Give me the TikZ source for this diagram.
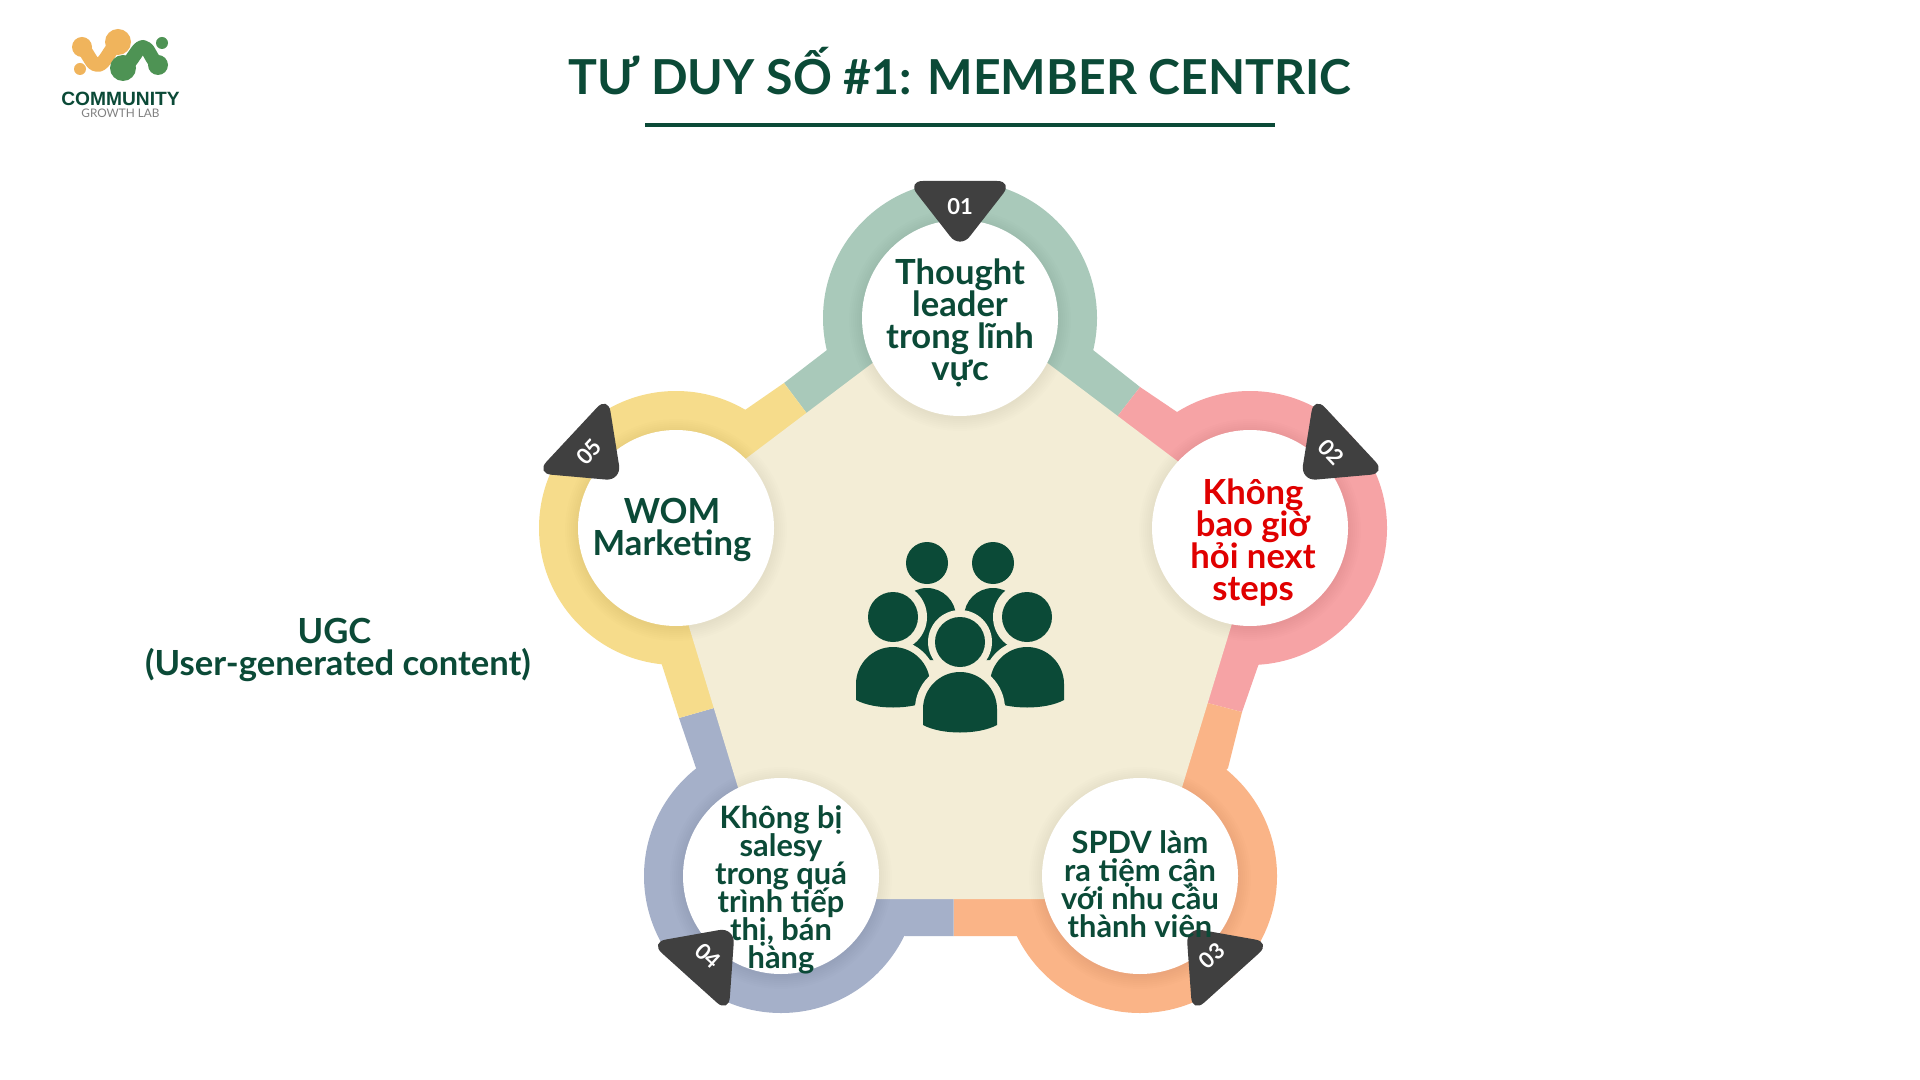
\documentclass[tikz,border=0pt]{standalone}
\usepackage{fontspec}
\setmainfont{Lato}
\definecolor{dkgreen}{HTML}{0B4A37}
\definecolor{teal}{HTML}{A9C9BA}
\definecolor{pinkb}{HTML}{F6A3A5}
\definecolor{orangeb}{HTML}{FAB487}
\definecolor{blueb}{HTML}{A5B0C9}
\definecolor{yellowb}{HTML}{F6DC8B}
\definecolor{beige}{HTML}{F3EDD6}
\definecolor{tri}{HTML}{404040}
\definecolor{redt}{HTML}{E00000}
\definecolor{logoO}{HTML}{F0B45C}
\definecolor{logoG}{HTML}{4E9354}
\newcommand{\fsz}[2]{\fontsize{#1pt}{#2pt}\selectfont\lineskiplimit=-30pt\normallineskiplimit=-30pt\relax}
\newcommand{\domepath}[5]{% c,w,t,s,b
  (#1-#2,#4) -- (#1-#2,#3+#2) .. controls (#1-#2,#3+0.45*#2) and (#1-0.55*#2,#3) .. (#1,#3)
  .. controls (#1+0.55*#2,#3) and (#1+#2,#3+0.45*#2) .. (#1+#2,#3+#2) -- (#1+#2,#4)
  .. controls (#1+0.5*#2,#5) and (#1-0.5*#2,#5) .. (#1-#2,#4) -- cycle}
\tikzset{
  x=0.5pt,y=-0.5pt,
  big/.style={font=\bfseries\fsz{17.3}{16},text=dkgreen,align=center,inner sep=0pt},
  small/.style={font=\bfseries\fsz{15.4}{14},text=dkgreen,align=center,inner sep=0pt},
  numlab/.style={font=\bfseries\fsz{11}{11},text=white,inner sep=0pt},
  tribox/.style={fill=tri,rounded corners=8pt},
  logoline/.style={line width=7pt,line cap=round,line join=round}
}
\begin{document}
\begin{tikzpicture}
\useasboundingbox (0,0) rectangle (1920,1080);
\fill[white] (0,0) rectangle (1920,1080);
% rings
\fill[teal] (960,318) circle[radius=68.5pt];
\fill[pinkb] (1250,528) circle[radius=68.5pt];
\fill[orangeb] (1140,876) circle[radius=68.5pt];
\fill[blueb] (781,876) circle[radius=68.5pt];
\fill[yellowb] (676,528) circle[radius=68.5pt];
% arms
\fill[teal] (1060,330) -- (1093,350) -- (1140,387) -- (1113,422) -- (1040,370) -- cycle;
\fill[teal] (827,350) -- (784,383) -- (811,419) -- (880,370) -- (860,330) -- cycle;
\fill[pinkb] (1140,387) -- (1113,422) -- (1190,480) -- (1200,430) -- (1177,412) -- cycle;
\fill[pinkb] (1242,712) -- (1200,701) -- (1225,627) -- (1270,640) -- (1258,666) -- cycle;
\fill[orangeb] (1242,712) -- (1228,768) -- (1200,800) -- (1170,800) -- (1200,701) -- cycle;
\fill[orangeb] (953.5,890) -- (953.5,936) -- (1019,936) -- (1060,920) -- (1060,890) -- cycle;
\fill[blueb] (953.5,890) -- (953.5,936) -- (905,936) -- (870,920) -- (870,890) -- cycle;
\fill[blueb] (679,718) -- (696,768) -- (720,800) -- (760,800) -- (721,706) -- cycle;
\fill[yellowb] (679,718) -- (721,706) -- (698,627) -- (650,640) -- (662,665) -- cycle;
\fill[yellowb] (784,383) -- (811,419) -- (740,470) -- (720,440) -- (745,410) -- cycle;
% pentagon
\fill[beige] (960,297) -- (1262,525) -- (1148,899) -- (772,899) -- (658,525) -- cycle;
% soft shadows + white discs
\foreach \cx/\cy in {960/318,1250/528,1140/876,781/876,676/528}{
  \foreach \rr in {49.5,50.5,51.5,52.5,53.5,54.5,55.5}{
    \fill[black,opacity=0.008] (\cx,\cy+2) circle[radius=\rr pt];
  }
  \fill[white] (\cx,\cy) circle[radius=49pt];
}
% triangles
\begin{scope}[shift={(960,318)}]
  \fill[tribox] (-53,-137) -- (53,-137) -- (0,-69) -- cycle;
\end{scope}
\begin{scope}[shift={(1250,528)},rotate=-47]
  \fill[tribox] (-53,-137) -- (53,-137) -- (0,-69) -- cycle;
\end{scope}
\begin{scope}[shift={(1140,876)},rotate=-138]
  \fill[tribox] (-53,-137) -- (53,-137) -- (0,-69) -- cycle;
\end{scope}
\begin{scope}[shift={(781,876)},rotate=138]
  \fill[tribox] (-53,-137) -- (53,-137) -- (0,-69) -- cycle;
\end{scope}
\begin{scope}[shift={(672,528)},rotate=47]
  \fill[tribox] (-53,-137) -- (53,-137) -- (0,-69) -- cycle;
\end{scope}
\node[numlab] (n1) at (960,207) {01};
\node[numlab,rotate=-47] (n2) at (1331,452) {02};
\node[numlab,rotate=42] (n3) at (1212,956) {03};
\node[numlab,rotate=-42] (n4) at (708,956) {04};
\node[numlab,rotate=47] (n5) at (589,452) {05};
% circle text
\node[big] (t1) at (960,323) {Thought\\leader\\trong lĩnh\\vực};
\node[big,text=redt] (t2) at (1253,543) {Không\\bao giờ\\hỏi next\\steps};
\node[big] (t5) at (672,530) {WOM\\Marketing};
\node[small] (t4) at (781,890) {Không bị\\salesy\\trong quá\\trình tiếp\\thị, bán\\hàng};
\node[small] (t3) at (1140,884) {SPDV làm\\ra tiệm cận\\với nhu cầu\\thành viên};
\node[big] (ugc) at (338,650) {UGC\hspace*{3.5pt}\\(User-generated content)};
% title
\node[font=\bfseries\fsz{24.1}{25},text=dkgreen,inner sep=0pt] (title) at (960,71) {TƯ DUY SỐ \#1: MEMBER CENTRIC};
\fill[dkgreen] (645,123) rectangle (1275,127);
% people icon
\fill[dkgreen] (927,563) circle[radius=10.5pt];
\fill[dkgreen] (993,563) circle[radius=10.5pt];
\fill[dkgreen] \domepath{927}{29}{588}{655}{662};
\fill[dkgreen] \domepath{993}{29}{588}{655}{662};
\foreach \c in {893,1027}{
  \fill[beige] (\c,617) circle[radius=17pt];
  \filldraw[beige,line width=7pt] \domepath{\c}{37}{647}{700}{710};
}
\foreach \c in {893,1027}{
  \fill[dkgreen] (\c,617) circle[radius=12.5pt];
  \fill[dkgreen] \domepath{\c}{37}{647}{700}{710};
}
\fill[beige] (960,642) circle[radius=16pt];
\filldraw[beige,line width=8pt] \domepath{960}{37}{672}{725}{735};
\fill[dkgreen] (960,642) circle[radius=12.5pt];
\fill[dkgreen] \domepath{960}{37}{672}{725}{735};
% logo
\draw[logoO,logoline] (82,47) .. controls (90,56) and (92,66) .. (98,65) .. controls (105,64) and (108,52) .. (118,42);
\fill[logoO] (118,42) circle[radius=6.5pt];
\fill[logoO] (82,47) circle[radius=5pt];
\fill[logoO] (80,69) circle[radius=3pt];
\draw[logoG,logoline] (123,68) .. controls (133,62) and (137,47) .. (143,47) .. controls (149,47) and (150,58) .. (158,65);
\fill[logoG] (123,68) circle[radius=6.5pt];
\fill[logoG] (158,65) circle[radius=5pt];
\fill[logoG] (162,43) circle[radius=3pt];
\node[font=\fontspec{Liberation Sans}\bfseries\fsz{9.6}{10},text=dkgreen,inner sep=0pt] (lg1) at (120.5,99) {COMMUNITY};
\node[font=\fsz{5.9}{6},text=black!50,inner sep=0pt] (lg2) at (120.5,113) {GROWTH LAB};
\end{tikzpicture}
\end{document}
